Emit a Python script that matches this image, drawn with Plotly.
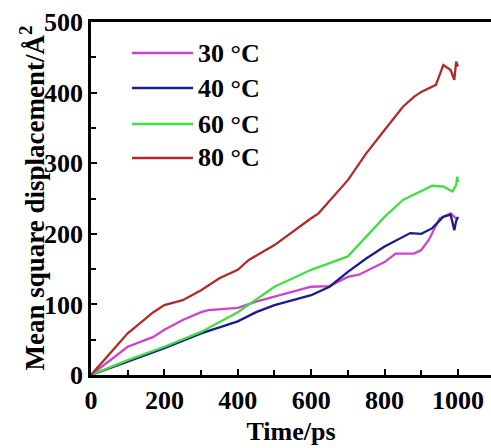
import plotly.graph_objects as go

# ---- data ----
labels = ["30 °C", "40 °C", "60 °C", "80 °C"]
colors = ["#cc44cc", "#1c1c8a", "#44dd44", "#b22a2a"]

t30 = [0, 100, 170, 200, 250, 300, 320, 400, 450, 500, 600, 650, 700, 730, 800, 830, 880, 900, 920, 950, 980, 990, 1000]
v30 = [0, 40, 54, 64, 78, 89, 92, 95, 104, 111, 125, 126, 139, 142, 160, 172, 172, 177, 191, 222, 229, 224, 220]

t40 = [0, 100, 200, 300, 400, 450, 500, 600, 650, 700, 750, 800, 850, 870, 900, 930, 960, 980, 990, 995, 1000]
v40 = [0, 19, 38, 59, 76, 89, 99, 113, 125, 146, 165, 182, 196, 201, 200, 208, 224, 227, 205, 218, 224]

t60 = [0, 100, 200, 300, 400, 500, 600, 650, 700, 750, 800, 850, 900, 930, 960, 985, 995, 998, 1000]
v60 = [0, 21, 40, 61, 89, 125, 149, 158, 168, 196, 224, 248, 260, 268, 267, 260, 269, 281, 273]

t80 = [0, 100, 170, 200, 250, 300, 350, 400, 430, 500, 600, 620, 700, 750, 800, 850, 880, 900, 940, 960, 980, 990, 995, 1000]
v80 = [0, 59, 89, 99, 106, 120, 137, 149, 163, 184, 222, 229, 276, 314, 347, 380, 394, 401, 411, 439, 432, 418, 444, 437]

series_t = [t30, t40, t60, t80]
series_v = [v30, v40, v60, v80]

x_ticks = [0, 200, 400, 600, 800, 1000]
y_ticks = [0, 100, 200, 300, 400, 500]

FONT = "Liberation Serif"

fig = go.Figure()
for t, v, c, n in zip(series_t, series_v, colors, labels):
    fig.add_trace(go.Scatter(x=t, y=v, mode="lines", name=n,
                             line=dict(color=c, width=2.3), showlegend=False))

# manual legend (paper coordinates)
leg_y = [0.912, 0.813, 0.711, 0.615]
for c, n, yy in zip(colors, labels, leg_y):
    fig.add_shape(type="line", xref="paper", yref="paper",
                  x0=0.1025, x1=0.255, y0=yy, y1=yy,
                  line=dict(color=c, width=2.5))
    fig.add_annotation(xref="paper", yref="paper", x=0.262, y=yy,
                       text="<b>%s</b>" % n, showarrow=False,
                       xanchor="left", yanchor="middle",
                       font=dict(family=FONT, size=26, color="black"))

# y-axis title as rotated annotation
fig.add_annotation(xref="paper", yref="paper", x=-0.1475, y=0.50,
                   text="<b>Mean square displacement/Å<sup>2</sup></b>",
                   showarrow=False, textangle=-90,
                   xanchor="center", yanchor="middle",
                   font=dict(family=FONT, size=27, color="black"))

axis_common = dict(
    showline=True, linecolor="black", linewidth=2.5,
    ticks="inside", ticklen=6, tickwidth=2, tickcolor="black",
    showgrid=False, zeroline=False,
    tickfont=dict(family=FONT, size=26, color="black"),
)

fig.update_layout(
    width=491, height=448,
    margin=dict(l=91, r=0, t=22, b=73),
    plot_bgcolor="white", paper_bgcolor="white",
    xaxis=dict(range=[0, 1090], tickvals=x_ticks,
               ticktext=["<b>%d</b>" % v for v in x_ticks],
               mirror=True,
               minor=dict(dtick=100, tick0=0, ticks="inside", ticklen=5,
                          tickwidth=2, tickcolor="black", showgrid=False),
               title=dict(text="<b>Time/ps</b>", standoff=8,
                          font=dict(family=FONT, size=26, color="black")),
               **axis_common),
    yaxis=dict(range=[0, 500], tickvals=y_ticks,
               ticktext=["<b>%d</b>" % v for v in y_ticks],
               ticklabelstandoff=0,
               minor=dict(dtick=50, tick0=0, ticks="inside", ticklen=5,
                          tickwidth=2, tickcolor="black", showgrid=False),
               **axis_common),
)

fig.write_html("out.html")
